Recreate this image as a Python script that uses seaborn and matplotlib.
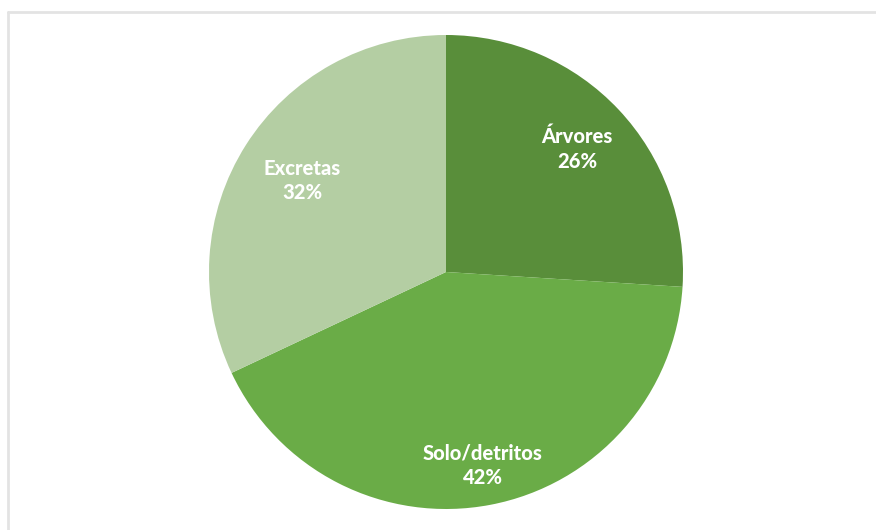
import numpy as np
import matplotlib
matplotlib.use("Agg")
import matplotlib.pyplot as plt
import seaborn as sns
from matplotlib.lines import Line2D

categories = ["Árvores", "Solo/detritos", "Excretas"]
values = [26, 42, 32]
colors = ["#598E3A", "#6AAC47", "#B4CEA3"]
label_radius = [0.76, 0.83, 0.72]

sns.set_theme(style="white")
plt.rcParams['font.family'] = ['Lato', 'DejaVu Sans']

W, H = 876, 530
fig = plt.figure(figsize=(W / 100, H / 100), dpi=100)
fig.patch.set_facecolor("white")

cx, cy, r = 446, 272, 237
ax = fig.add_axes([(cx - r) / W, (H - cy - r) / H, 2 * r / W, 2 * r / H])
wedges, _ = ax.pie(values, colors=colors, startangle=90, counterclock=False,
                   radius=1.0, wedgeprops=dict(linewidth=0))
ax.set_xlim(-1, 1)
ax.set_ylim(-1, 1)
ax.set_aspect("equal")
ax.axis("off")

for w, cat, v, lr in zip(wedges, categories, values, label_radius):
    ang = np.deg2rad((w.theta1 + w.theta2) / 2)
    ax.text(lr * np.cos(ang), lr * np.sin(ang), f"{cat}\n{v}%",
            ha="center", va="center", color="white", fontsize=14.5,
            fontweight="black", linespacing=1.35)

# frame lines (top and left)
fig.add_artist(Line2D([7.5 / W, 1], [1 - 11.5 / H, 1 - 11.5 / H],
                      transform=fig.transFigure, color="#E3E3E3", linewidth=2))
fig.add_artist(Line2D([7.5 / W, 7.5 / W], [0, 1 - 11.5 / H],
                      transform=fig.transFigure, color="#E3E3E3", linewidth=2))

fig.savefig("out.png", dpi=100)
